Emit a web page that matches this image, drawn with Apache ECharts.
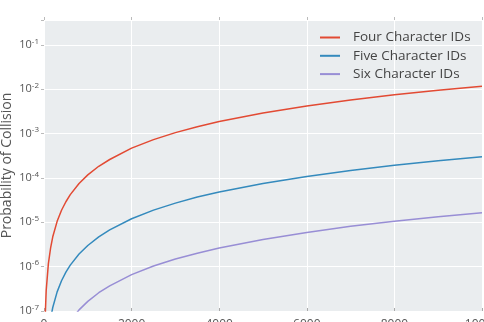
<!DOCTYPE html>
<html><head><meta charset="utf-8">
<script src="https://cdn.jsdelivr.net/npm/echarts@6/dist/echarts.min.js"></script>
<style>html,body{margin:0;padding:0;background:#fff}#c{width:484px;height:322px}</style>
</head><body><div id="c"></div>
<script>
const seriesNames = ['Four Character IDs', 'Five Character IDs', 'Six Character IDs'];
const xValues = [20, 50, 100, 150, 200, 300, 400, 500, 600, 800, 1000, 1250, 1500, 2000, 2500, 3000, 3500, 4000, 5000, 6000, 7000, 8000, 9000, 10000];
const fourChar = [4.7e-8, 2.9e-7, 1.17e-6, 2.6e-6, 4.7e-6, 1.05e-5, 1.87e-5, 2.9e-5, 4.2e-5, 7.5e-5, 1.17e-4, 1.83e-4, 2.6e-4, 4.7e-4, 7.3e-4, 1.05e-3, 1.43e-3, 1.87e-3, 2.9e-3, 4.2e-3, 5.7e-3, 7.5e-3, 9.5e-3, 1.17e-2];
const fiveChar = [1.2e-9, 7.5e-9, 3.0e-8, 6.75e-8, 1.2e-7, 2.7e-7, 4.8e-7, 7.5e-7, 1.08e-6, 1.92e-6, 3.0e-6, 4.7e-6, 6.75e-6, 1.2e-5, 1.88e-5, 2.7e-5, 3.7e-5, 4.8e-5, 7.5e-5, 1.08e-4, 1.47e-4, 1.92e-4, 2.43e-4, 3.0e-4];
const sixChar = [6.6e-11, 4.1e-10, 1.65e-9, 3.7e-9, 6.6e-9, 1.49e-8, 2.64e-8, 4.1e-8, 5.9e-8, 1.06e-7, 1.65e-7, 2.58e-7, 3.7e-7, 6.6e-7, 1.03e-6, 1.49e-6, 2.0e-6, 2.64e-6, 4.1e-6, 5.9e-6, 8.1e-6, 1.06e-5, 1.34e-5, 1.65e-5];
const yMin = 1e-7, yMax = 0.363;
const xMin = 0, xMax = 10000, xInterval = 2000;
const yAxisTitle = 'Probability of Collision';

const colors = ['#E24A33', '#348ABD', '#988ED5'];
const allSeries = [fourChar, fiveChar, sixChar];

const chart = echarts.init(document.getElementById('c'), null, {renderer: 'canvas'});
const font = 'Open Sans';
chart.setOption({
  animation: false,
  backgroundColor: '#ffffff',
  grid: {left: 44, right: 2, top: 20, bottom: 11, show: true, backgroundColor: '#eaedef', borderWidth: 0, outerBoundsMode: 'none', containLabel: false},
  legend: {
    orient: 'vertical', left: 315, top: 25, itemWidth: 20, itemHeight: 2, itemGap: 3.3,
    icon: 'rect',
    textStyle: {fontFamily: font, fontSize: 13.5, color: '#444', padding: [0, 0, 0, 8], lineHeight: 15},
    data: seriesNames
  },
  xAxis: [{
    type: 'value', min: xMin, max: xMax, interval: xInterval,
    axisLine: {show: false},
    axisTick: {show: true, inside: true, length: 3, lineStyle: {color: '#aaa'}},
    axisLabel: {show: true, margin: 8, color: '#555', fontFamily: font, fontSize: 12, formatter: v => String(v)},
    splitLine: {show: true, lineStyle: {color: '#ffffff', width: 1}}
  }, {
    type: 'value', position: 'top', min: xMin, max: xMax, interval: xInterval,
    axisLine: {show: false},
    axisTick: {show: true, length: 3, lineStyle: {color: '#bbb'}},
    axisLabel: {show: false}, splitLine: {show: false}
  }],
  yAxis: {
    type: 'log', logBase: 10, min: yMin, max: yMax, interval: 1,
    name: yAxisTitle, nameLocation: 'middle', nameGap: 30, nameRotate: 90, nameMoveOverlap: false,
    nameTextStyle: {fontFamily: font, fontSize: 14, color: '#555'},
    axisLine: {show: false},
    axisTick: {show: true, length: 3, lineStyle: {color: '#bbb'}},
    axisLabel: {
      margin: 5, color: '#555', fontFamily: font, fontSize: 11,
      formatter: function (v) {
        const e = Math.log10(v);
        if (Math.abs(e - Math.round(e)) > 1e-6) return '';
        return '{b|10}{s|' + Math.round(e) + '}';
      },
      rich: {
        b: {fontFamily: font, fontSize: 11, color: '#555'},
        s: {fontFamily: font, fontSize: 8, color: '#555', verticalAlign: 'top', padding: [0, 0, 7, 0]}
      }
    },
    splitLine: {show: true, lineStyle: {color: '#ffffff', width: 1}}
  },
  series: allSeries.map((arr, i) => ({
    name: seriesNames[i], type: 'line', showSymbol: false, clip: true,
    data: xValues.map((x, j) => [x, arr[j]]),
    lineStyle: {color: colors[i], width: 1.5}, itemStyle: {color: colors[i]}
  }))
});
</script>
</body></html>
